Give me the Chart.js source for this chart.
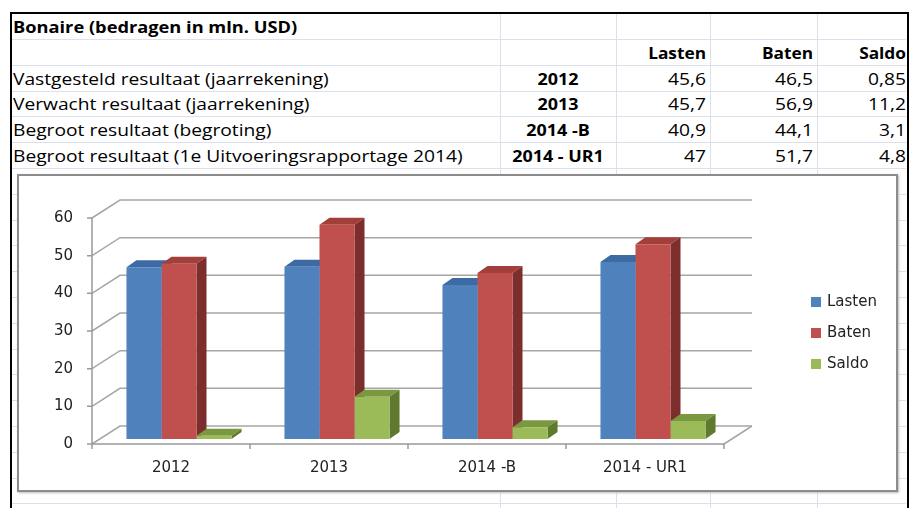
<!DOCTYPE html>
<html>
<head>
<meta charset="utf-8">
<script src="https://cdn.jsdelivr.net/npm/chart.js@4"></script>
<style>
  body { margin: 0; width: 909px; height: 508px; overflow: hidden; position: relative; background: #fff; font-family: "Open Sans", sans-serif; color: #000; }
  .line { position: absolute; background: #dbe1ec; }
  .cell { position: absolute; height: 26px; line-height: 26px; font-size: 16px; white-space: nowrap; }
  .b { font-weight: bold; }
  #frame { position: absolute; left: 10px; top: 12px; width: 899px; height: 500px; border: 2px solid #000; border-bottom: none; box-sizing: border-box; }
  #box { position: absolute; left: 17px; top: 174px; width: 881px; height: 318px; border: 2px solid #8c8c8c; box-sizing: border-box; background: #fff; box-shadow: 1px 1px 2px #bbb; }
  #box canvas { display: block; }
</style>
</head>
<body>
<div id="sheet"></div>
<div id="frame"></div>
<div id="box"><canvas id="chart" width="877" height="314"></canvas></div>

<script>
const title = "Bonaire (bedragen in mln. USD)";
const rowLabels = [
  "Vastgesteld resultaat (jaarrekening)",
  "Verwacht resultaat (jaarrekening)",
  "Begroot resultaat (begroting)",
  "Begroot resultaat (1e Uitvoeringsrapportage 2014)"
];
const categories = ["2012", "2013", "2014 -B", "2014 - UR1"];
const seriesNames = ["Lasten", "Baten", "Saldo"];
const lasten = [45.6, 45.7, 40.9, 47];
const baten = [46.5, 56.9, 44.1, 51.7];
const saldo = [0.85, 11.2, 3.1, 4.8];
const yTicks = [0, 10, 20, 30, 40, 50, 60];

const colors = ["#4f81bd", "#c0504d", "#9bbb59"];
const topColors = ["#3d6aa3", "#a33f3b", "#7a983f"];
const sideColors = ["#30568a", "#7b2e2c", "#5f7a2f"];

// spreadsheet grid
const sheet = document.getElementById("sheet");
function line(x, y, w, h) {
  const d = document.createElement("div");
  d.className = "line";
  d.style.cssText = `left:${x}px;top:${y}px;width:${w}px;height:${h}px`;
  sheet.appendChild(d);
}
for (let y = 39; y < 508; y += 25.8) line(12, Math.round(y), 894, 1);
[500, 616, 710, 817].forEach(x => line(x, 14, 1, 494));

// the original text is a stretched Calibri, so widen the glyphs a bit
function cell(text, x, yc, w, align, bold, stretch) {
  const d = document.createElement("div");
  d.className = "cell" + (bold ? " b" : "");
  d.textContent = text;
  d.style.left = x + "px";
  d.style.top = (yc - 13) + "px";
  d.style.width = w + "px";
  d.style.textAlign = align;
  d.style.transform = `scaleX(${stretch})`;
  d.style.transformOrigin = align === "center" ? "center" : align + " center";
  document.body.appendChild(d);
}
const fmt = v => String(v).replace(".", ",");
const rowY = [79, 104, 130, 156];

cell(title, 13, 27, 420, "left", true, 1.14);
const colX = [616, 710, 817];
const colW = [90, 103, 89];
seriesNames.forEach((s, i) => cell(s, colX[i], 53, colW[i], "right", true, 1.08));
[lasten, baten, saldo].forEach((arr, i) => {
  arr.forEach((v, j) => cell(fmt(v), colX[i], rowY[j], colW[i], "right", false, 1.2));
});
rowLabels.forEach((t, j) => {
  cell(t, 13, rowY[j], 400, "left", false, 1.2);
  cell(categories[j], 500, rowY[j], 116, "center", true, 1.12);
});

// pseudo 3D offsets relative to the bar plane
const DEPTH = { x: 10, y: -7 };
const FRONT = { x: -8, y: 5 };
const BACK = { x: 20, y: -13 };

const wall3d = {
  id: "wall3d",
  beforeDatasetsDraw(chart) {
    const { ctx, chartArea: a, scales: { x, y } } = chart;
    const fl = a.left + FRONT.x, fr = a.right + FRONT.x;
    const bl = a.left + BACK.x, br = a.right + BACK.x;
    const y0 = y.getPixelForValue(0);
    ctx.save();
    ctx.strokeStyle = "#a6a6a6";
    ctx.lineWidth = 1.5;
    yTicks.forEach(v => {
      const py = y.getPixelForValue(v);
      ctx.beginPath();
      ctx.moveTo(fl, py + FRONT.y);
      ctx.lineTo(bl, py + BACK.y);
      ctx.lineTo(br, py + BACK.y);
      ctx.stroke();
    });
    // floor right edge
    ctx.beginPath();
    ctx.moveTo(fr, y0 + FRONT.y);
    ctx.lineTo(br, y0 + BACK.y);
    ctx.stroke();

    // front axes
    ctx.strokeStyle = "#999";
    ctx.lineWidth = 1.5;
    ctx.beginPath();
    ctx.moveTo(fl, y.getPixelForValue(60) + FRONT.y);
    ctx.lineTo(fl, y0 + FRONT.y);
    ctx.lineTo(fr, y0 + FRONT.y);
    yTicks.forEach(v => {
      const py = y.getPixelForValue(v) + FRONT.y;
      ctx.moveTo(fl - 5, py);
      ctx.lineTo(fl, py);
    });
    for (let i = 0; i <= categories.length; i++) {
      const px = x.getPixelForValue(i - 0.5) + FRONT.x;
      ctx.moveTo(px, y0 + FRONT.y);
      ctx.lineTo(px, y0 + FRONT.y + 5);
    }
    ctx.stroke();

    ctx.fillStyle = "#222";
    ctx.font = "15px 'DejaVu Sans'";
    ctx.textAlign = "right";
    ctx.textBaseline = "middle";
    yTicks.forEach(v => ctx.fillText(String(v), fl - 19, y.getPixelForValue(v) + FRONT.y));
    ctx.textAlign = "center";
    categories.forEach((c, i) => ctx.fillText(c, x.getPixelForValue(i) + FRONT.x, y0 + FRONT.y + 24));

    // bar tops and sides, fronts are drawn by chart.js afterwards
    chart.data.datasets.forEach((ds, i) => {
      chart.getDatasetMeta(i).data.forEach(bar => {
        const l = bar.x - bar.width / 2, r = bar.x + bar.width / 2;
        const t = bar.y, b = bar.base;
        ctx.fillStyle = topColors[i];
        ctx.beginPath();
        ctx.moveTo(l, t); ctx.lineTo(r, t);
        ctx.lineTo(r + DEPTH.x, t + DEPTH.y); ctx.lineTo(l + DEPTH.x, t + DEPTH.y);
        ctx.closePath(); ctx.fill();
        ctx.fillStyle = sideColors[i];
        ctx.beginPath();
        ctx.moveTo(r, t); ctx.lineTo(r + DEPTH.x, t + DEPTH.y);
        ctx.lineTo(r + DEPTH.x, b + DEPTH.y); ctx.lineTo(r, b);
        ctx.closePath(); ctx.fill();
      });
    });
    ctx.restore();
  },
  afterDraw(chart) {
    const { ctx } = chart;
    ctx.save();
    ctx.font = "15px 'DejaVu Sans'";
    ctx.textBaseline = "middle";
    ctx.textAlign = "left";
    chart.data.datasets.forEach((ds, i) => {
      const yc = 126 + i * 31;
      ctx.fillStyle = ds.backgroundColor;
      ctx.fillRect(792, yc - 5, 10, 10);
      ctx.fillStyle = "#222";
      ctx.fillText(ds.label, 808, yc);
    });
    ctx.restore();
  }
};

new Chart(document.getElementById("chart"), {
  type: "bar",
  data: {
    labels: categories,
    datasets: [
      { label: seriesNames[0], data: lasten, backgroundColor: colors[0] },
      { label: seriesNames[1], data: baten, backgroundColor: colors[1] },
      { label: seriesNames[2], data: saldo, backgroundColor: colors[2] },
    ],
  },
  options: {
    responsive: false,
    animation: false,
    layout: { padding: { left: 81, right: 164, top: 37, bottom: 51 } },
    plugins: { legend: { display: false }, tooltip: { enabled: false } },
    datasets: { bar: { categoryPercentage: 0.665, barPercentage: 1 } },
    scales: {
      x: { display: false },
      y: { display: false, min: 0, max: 60, ticks: { stepSize: 10 } },
    },
  },
  plugins: [wall3d],
});
</script>
</body>
</html>
